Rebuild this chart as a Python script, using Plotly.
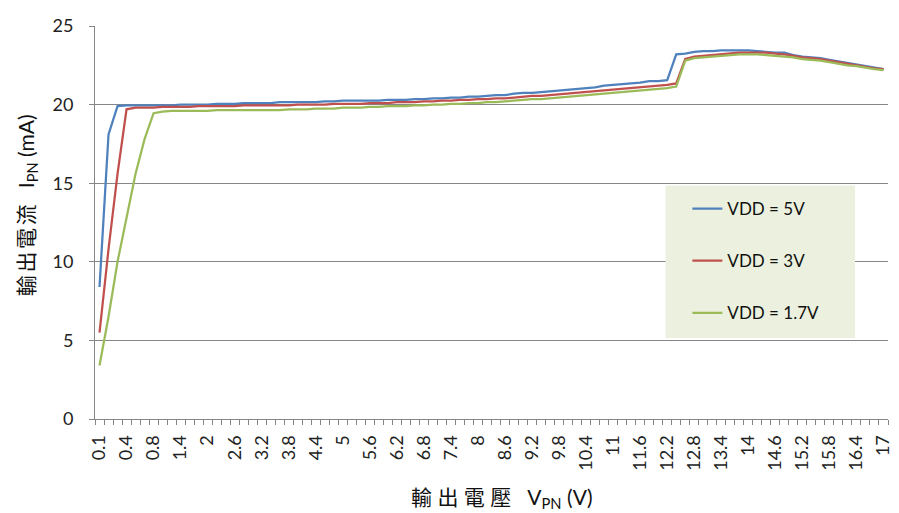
import plotly.graph_objects as go

categories = ["0.1", "0.2", "0.3", "0.4", "0.5", "0.6"] + [f"{v/10:g}" for v in range(8, 171, 2)]

vdd_5v = [8.4, 18.1, 19.9, 19.95, 19.95, 19.95, 19.95, 19.95, 19.95, 20.0,
          20.0, 20.0, 20.0, 20.05, 20.05, 20.05, 20.1, 20.1, 20.1, 20.1,
          20.15, 20.15, 20.15, 20.15, 20.15, 20.2, 20.2, 20.25, 20.25, 20.25,
          20.25, 20.25, 20.3, 20.3, 20.3, 20.35, 20.35, 20.4, 20.4, 20.45,
          20.45, 20.5, 20.5, 20.55, 20.6, 20.6, 20.7, 20.75, 20.75, 20.8,
          20.85, 20.9, 20.95, 21.0, 21.05, 21.1, 21.2, 21.25, 21.3, 21.35,
          21.4, 21.5, 21.5, 21.55, 23.2, 23.25, 23.35, 23.4, 23.4, 23.45,
          23.45, 23.45, 23.45, 23.4, 23.35, 23.3, 23.3, 23.15, 23.05, 23.0,
          22.95, 22.85, 22.75, 22.65, 22.55, 22.45, 22.35, 22.25]

vdd_3v = [5.5, 10.8, 15.6, 19.7, 19.8, 19.8, 19.8, 19.85, 19.85, 19.85,
          19.85, 19.9, 19.9, 19.9, 19.9, 19.9, 19.95, 19.95, 19.95, 19.95,
          19.95, 19.95, 20.0, 20.0, 20.0, 20.0, 20.05, 20.05, 20.05, 20.05,
          20.1, 20.1, 20.1, 20.15, 20.15, 20.15, 20.2, 20.2, 20.25, 20.25,
          20.3, 20.3, 20.35, 20.35, 20.4, 20.4, 20.45, 20.5, 20.55, 20.55,
          20.6, 20.65, 20.7, 20.75, 20.8, 20.85, 20.9, 20.95, 21.0, 21.05,
          21.1, 21.15, 21.2, 21.25, 21.35, 22.9, 23.05, 23.1, 23.15, 23.2,
          23.25, 23.3, 23.3, 23.3, 23.3, 23.25, 23.2, 23.1, 23.0, 22.95,
          22.9, 22.8, 22.7, 22.6, 22.5, 22.4, 22.3, 22.25]

vdd_1v7 = [3.4, 6.5, 10.0, 12.8, 15.6, 17.8, 19.45, 19.55, 19.6, 19.6,
           19.6, 19.6, 19.6, 19.65, 19.65, 19.65, 19.65, 19.65, 19.65, 19.65,
           19.65, 19.7, 19.7, 19.7, 19.75, 19.75, 19.75, 19.8, 19.8, 19.8,
           19.85, 19.85, 19.9, 19.9, 19.9, 19.95, 19.95, 20.0, 20.0, 20.05,
           20.05, 20.1, 20.1, 20.15, 20.15, 20.2, 20.25, 20.3, 20.35, 20.35,
           20.4, 20.45, 20.5, 20.55, 20.6, 20.65, 20.7, 20.75, 20.8, 20.85,
           20.9, 20.95, 21.0, 21.05, 21.15, 22.8, 22.95, 23.0, 23.05, 23.1,
           23.15, 23.2, 23.2, 23.2, 23.15, 23.1, 23.05, 23.0, 22.9, 22.85,
           22.8, 22.7, 22.6, 22.5, 22.45, 22.35, 22.25, 22.2]

series_names = ["VDD = 5V", "VDD = 3V", "VDD = 1.7V"]
series_values = [vdd_5v, vdd_3v, vdd_1v7]
series_colors = ["#4F81BD", "#C0504D", "#9BBB59"]

y_ticks = [0, 5, 10, 15, 20, 25]

x_title = "輸 出 電 壓\u00a0\u00a0\u00a0V<sub>PN</sub> (V)"
y_title = "輸\u2009出\u2009電\u2009流\u00a0\u00a0\u00a0I<sub>PN</sub> (mA)"

idx = list(range(len(categories)))
label_idx = idx[::3]
label_text = [categories[i] for i in label_idx]

FONT = "Lato, 'Noto Sans CJK TC', sans-serif"
GRID = "#868686"

fig = go.Figure()
for k, (name, vals, col) in enumerate(zip(series_names, series_values, series_colors)):
    fig.add_trace(go.Scatter(x=idx, y=vals, mode="lines", name=name,
                             legendgroup=f"g{k}",
                             line=dict(color=col, width=2.25)))

fig.add_shape(type="rect", xref="paper", yref="paper",
              x0=0.7195, x1=0.9585, y0=0.206, y1=0.594,
              fillcolor="#EBF1DE", line=dict(width=0), layer="above")

fig.add_annotation(text=x_title, xref="paper", yref="paper", x=0.513, y=0,
                   xanchor="center", yanchor="middle", yshift=-79, showarrow=False,
                   font=dict(size=21, color="#111111"))
fig.add_annotation(text=y_title, xref="paper", yref="paper", x=0, y=0.544,
                   xanchor="center", yanchor="middle", xshift=-68, textangle=-90,
                   showarrow=False, font=dict(size=21, color="#111111"))

fig.update_layout(
    width=891, height=505,
    margin=dict(l=87, r=6, t=14, b=94),
    paper_bgcolor="white", plot_bgcolor="white",
    font=dict(family=FONT, color="#222222", size=17),
    showlegend=True,
    legend=dict(x=0.747, y=0.580, xanchor="left", yanchor="top",
                bgcolor="rgba(0,0,0,0)", font=dict(size=17, color="#111111"),
                tracegroupgap=27, itemwidth=30),
    xaxis=dict(
        range=[-0.5, len(categories) - 0.5],
        tickmode="array", tickvals=label_idx, ticktext=label_text,
        tickangle=-90, ticks="outside", ticklen=8, tickcolor="rgba(0,0,0,0)",
        showgrid=False, zeroline=False,
        showline=True, linecolor=GRID, linewidth=1,
        minor=dict(ticks="outside", ticklen=5, tick0=-0.5, dtick=1,
                   tickcolor=GRID, showgrid=False),
        tickfont=dict(size=18, color="#222222"),
    ),
    yaxis=dict(
        range=[0, 25], tickmode="array", tickvals=y_ticks,
        ticks="outside", ticklen=5, tickcolor=GRID,
        showgrid=True, gridcolor=GRID, gridwidth=1,
        zeroline=False, showline=True, linecolor=GRID, linewidth=1,
        tickfont=dict(size=18, color="#222222"),
        ticklabelstandoff=12,
    ),
)

fig.write_html("out.html")
